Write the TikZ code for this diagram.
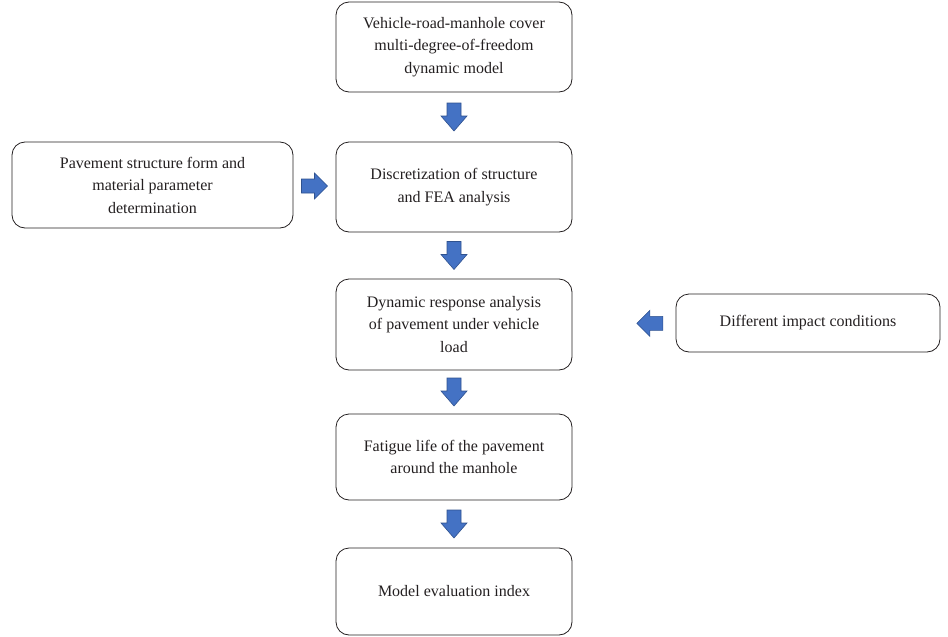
\documentclass[tikz,border=0pt]{standalone}
\usepackage{fontspec}
\setmainfont{Liberation Serif}
\usetikzlibrary{calc}
\definecolor{arrfill}{HTML}{4472C4}
\definecolor{arrline}{HTML}{2F528F}
\definecolor{txt}{HTML}{231F20}
\tikzset{
  box/.style={draw=txt, text=txt, rounded corners=13pt, align=center, inner sep=0pt, line width=0.8pt,
    font=\fontsize{16}{22.5}\selectfont},
  bigarrow/.style={fill=arrfill, draw=arrline, line width=0.6pt, line join=miter},
  downarr/.pic={\draw[bigarrow] (-7,14) -- (7,14) -- (7,1) -- (13,1) -- (0,-14) -- (-13,1) -- (-7,1) -- cycle;},
  rightarr/.pic={\draw[bigarrow] (-13,7) -- (0,7) -- (0,13) -- (13,0) -- (0,-13) -- (0,-7) -- (-13,-7) -- cycle;},
  leftarr/.pic={\draw[bigarrow] (13,7) -- (0,7) -- (0,13) -- (-13,0) -- (0,-13) -- (0,-7) -- (13,-7) -- cycle;}
}
\begin{document}
\begin{tikzpicture}[x=1pt,y=1pt]
\useasboundingbox (0,0) rectangle (948,-637);
\node[box, minimum width=236pt, minimum height=90pt] (top) at (454,-47)
  {Vehicle-road-manhole cover\\multi-degree-of-freedom\\dynamic model};
\node[box, minimum width=236pt, minimum height=90pt] (disc) at (454,-187)
  {Discretization of structure\\and FEA analysis};
\node[box, minimum width=281pt, minimum height=86pt] (pave) at (152.5,-185)
  {Pavement structure form and\\material parameter\\determination};
\node[box, minimum width=236pt, minimum height=91pt] (dyn) at (454,-324.5)
  {Dynamic response analysis\\of pavement under vehicle\\load};
\node[box, minimum width=264pt, minimum height=58pt] (diff) at (808,-323)
  {Different impact conditions};
\node[box, minimum width=236pt, minimum height=86pt] (fat) at (454,-457)
  {Fatigue life of the pavement\\around the manhole};
\node[box, minimum width=236pt, minimum height=87pt] (model) at (454,-591.5)
  {Model evaluation index};
\pic at ($(top.south)!0.5!(disc.north)$) {downarr};
\pic at ($(disc.south)!0.5!(dyn.north)$) {downarr};
\pic at ($(dyn.south)!0.5!(fat.north)$) {downarr};
\pic at ($(fat.south)!0.5!(model.north)$) {downarr};
\pic at ($(pave.east)!0.5!(disc.west)$) {rightarr};
\pic at ($(dyn.east)!0.75!(diff.west)$) {leftarr};
\end{tikzpicture}
\end{document}
